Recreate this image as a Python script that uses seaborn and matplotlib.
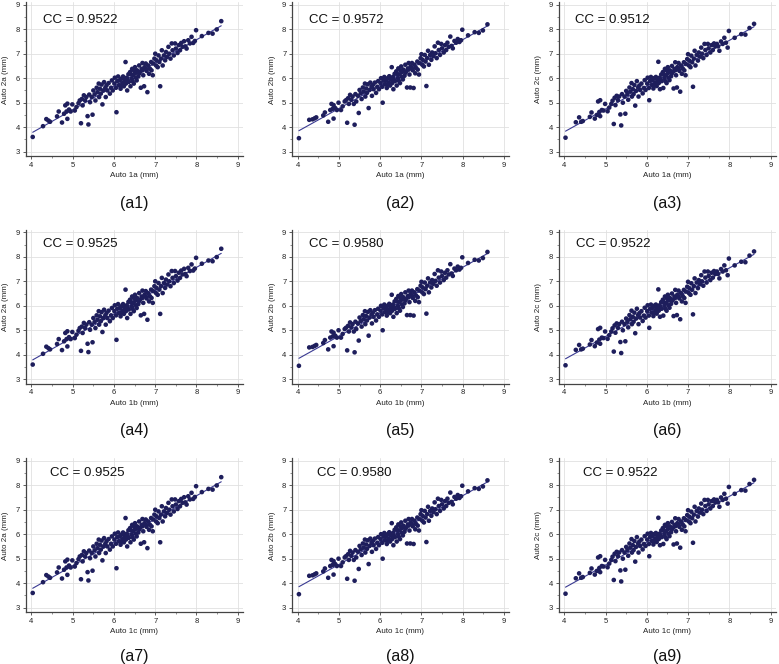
import matplotlib
matplotlib.use("Agg")
import matplotlib.pyplot as plt
from matplotlib.ticker import MultipleLocator
import seaborn as sns
import pandas as pd

# ---------------- data ----------------
auto1 = [
    4.03, 4.28, 4.36, 4.41, 4.45, 4.62, 4.66, 4.74, 4.79, 4.82,
    4.85, 4.87, 4.87, 4.91, 4.95, 4.99,
    5.05, 5.09, 5.14, 5.17, 5.20, 5.22, 5.24, 5.27, 5.30, 5.33,
    5.36, 5.38, 5.40, 5.42, 5.46, 5.48, 5.50, 5.53, 5.55, 5.58,
    5.60, 5.63, 5.64, 5.66, 5.68, 5.70, 5.72, 5.74, 5.76, 5.79,
    5.80, 5.82, 5.84, 5.87, 5.90, 5.93, 5.95, 5.97,
    6.01, 6.02, 6.05, 6.06, 6.08, 6.10, 6.12, 6.14, 6.16, 6.18,
    6.21, 6.22, 6.24, 6.27, 6.28, 6.29, 6.31, 6.32, 6.35, 6.36,
    6.39, 6.40, 6.43, 6.44, 6.47, 6.48, 6.51, 6.52, 6.55, 6.56,
    6.59, 6.61, 6.63, 6.65, 6.67, 6.69, 6.71, 6.73, 6.74, 6.77,
    6.79, 6.81, 6.83, 6.85, 6.87, 6.90, 6.91, 6.94, 6.95, 6.98,
    6.18, 6.24, 6.33, 6.41, 6.45, 6.49, 6.53, 6.61, 6.69, 6.77,
    7.00, 7.02, 7.03, 7.06, 7.08, 7.10, 7.12, 7.14, 7.16, 7.18,
    7.21, 7.24, 7.26, 7.29, 7.32, 7.34, 7.37, 7.40, 7.42, 7.45,
    7.48, 7.50, 7.54, 7.57, 7.60, 7.63, 7.66, 7.70, 7.73, 7.76,
    7.80, 7.84, 7.88, 7.92, 7.96, 7.99,
    8.13, 8.29, 8.39, 8.49, 8.60,
]

auto2a = [
    3.60, 4.04, 4.33, 4.27, 4.22, 4.44, 4.64, 4.19, 4.55, 4.89,
    4.64, 4.96, 4.34, 4.72, 4.64, 4.93,
    4.68, 4.82, 4.98, 5.09, 4.16, 5.15, 4.89, 5.30, 5.09, 5.23,
    4.45, 4.11, 5.33, 5.02, 5.23, 4.51, 5.50, 5.34, 5.09, 5.61,
    5.43, 5.78, 5.23, 5.57, 5.37, 5.74, 4.93, 5.50, 5.84, 5.61,
    5.23, 5.71, 5.50, 5.80, 5.37, 5.61, 5.91, 5.50,
    5.78, 6.02, 5.61, 4.61, 5.88, 6.07, 5.71, 5.91, 5.57, 5.98,
    5.80, 6.07, 5.67, 5.91, 6.66, 5.78, 6.02, 5.50, 6.16, 5.85,
    6.25, 5.67, 5.98, 6.38, 6.12, 5.78, 6.45, 6.21, 5.91, 6.32,
    6.07, 6.52, 6.25, 5.61, 6.38, 6.62, 6.12, 5.67, 6.45, 6.60,
    6.30, 5.43, 6.52, 6.18, 6.39, 6.66, 6.32, 6.12, 6.60, 6.80,
    5.71, 5.98, 5.94, 6.16, 5.88, 6.30, 6.02, 6.19, 6.32, 6.38,
    7.00, 6.52, 6.73, 6.45, 6.93, 6.66, 5.67, 6.80, 7.14, 6.52,
    6.93, 6.73, 7.07, 6.87, 7.28, 7.00, 6.80, 7.42, 7.14, 6.93,
    7.42, 7.21, 7.03, 7.35, 7.14, 7.44, 7.28, 7.51, 7.30, 7.21,
    7.55, 7.42, 7.69, 7.44, 7.52, 7.96,
    7.72, 7.85, 7.82, 7.99, 8.33,
]

auto2b = [
    3.55, 4.30, 4.32, 4.36, 4.40, 4.48, 4.60, 4.22, 4.70, 4.95,
    4.75, 4.90, 4.35, 4.78, 4.70, 5.00,
    4.70, 4.85, 5.05, 5.10, 4.18, 5.18, 4.95, 5.32, 5.12, 5.25,
    4.95, 4.10, 5.35, 5.05, 5.28, 4.58, 5.52, 5.38, 5.15, 5.62,
    5.45, 5.78, 5.25, 5.58, 5.40, 5.75, 4.78, 5.52, 5.82, 5.65,
    5.28, 5.72, 5.55, 5.82, 5.40, 5.65, 5.88, 5.55,
    5.80, 6.00, 5.65, 5.00, 5.90, 6.05, 5.75, 5.92, 5.60, 6.00,
    5.82, 6.08, 5.70, 5.95, 6.45, 5.80, 6.05, 5.55, 6.18, 5.88,
    6.28, 5.70, 6.00, 6.40, 6.15, 5.80, 6.48, 6.25, 5.95, 6.35,
    6.10, 6.55, 6.28, 5.62, 6.40, 6.62, 6.15, 5.62, 6.48, 6.62,
    6.32, 5.60, 6.55, 6.20, 6.42, 6.68, 6.35, 6.15, 6.62, 6.82,
    5.75, 6.00, 5.95, 6.18, 5.90, 6.32, 6.05, 6.22, 6.35, 6.40,
    6.98, 6.55, 6.75, 6.48, 6.95, 6.68, 5.68, 6.82, 7.12, 6.55,
    6.95, 6.75, 7.05, 6.90, 7.30, 7.02, 6.82, 7.45, 7.15, 6.95,
    7.40, 7.22, 7.05, 7.35, 7.15, 7.45, 7.28, 7.70, 7.32, 7.22,
    7.52, 7.45, 7.60, 7.48, 7.55, 7.98,
    7.75, 7.88, 7.85, 7.95, 8.20,
]

auto2c = [
    3.57, 4.20, 4.40, 4.22, 4.25, 4.42, 4.60, 4.35, 4.50, 5.05,
    4.62, 5.10, 4.45, 4.70, 4.68, 4.95,
    4.65, 4.80, 4.95, 5.08, 4.13, 5.20, 4.90, 5.28, 5.10, 5.25,
    4.52, 4.07, 5.35, 5.00, 5.25, 4.55, 5.48, 5.35, 5.12, 5.62,
    5.45, 5.80, 5.25, 5.55, 5.35, 5.72, 4.88, 5.48, 5.88, 5.62,
    5.25, 5.70, 5.52, 5.78, 5.38, 5.60, 5.92, 5.52,
    5.78, 6.02, 5.60, 5.10, 5.88, 6.05, 5.72, 5.92, 5.58, 6.00,
    5.82, 6.05, 5.68, 5.92, 6.67, 5.80, 6.02, 5.55, 6.15, 5.88,
    6.25, 5.60, 6.00, 6.38, 6.12, 5.80, 6.45, 6.22, 5.92, 6.32,
    6.08, 6.50, 6.25, 5.58, 6.38, 6.65, 6.12, 5.62, 6.45, 6.62,
    6.30, 5.45, 6.52, 6.18, 6.40, 6.65, 6.32, 6.12, 6.58, 6.78,
    5.72, 5.98, 5.95, 6.15, 5.88, 6.30, 6.02, 6.20, 6.32, 6.38,
    6.98, 6.52, 6.72, 6.45, 6.92, 6.65, 5.65, 6.80, 7.12, 6.52,
    6.95, 6.72, 7.05, 6.88, 7.25, 7.00, 6.82, 7.40, 7.15, 6.95,
    7.40, 7.22, 7.05, 7.35, 7.15, 7.42, 7.30, 7.40, 7.30, 7.12,
    7.50, 7.40, 7.65, 7.45, 7.25, 7.93,
    7.65, 7.80, 7.78, 8.05, 8.22,
]

x_names = ["Auto 1a (mm)", "Auto 1b (mm)", "Auto 1c (mm)"]
y_names = ["Auto 2a (mm)", "Auto 2b (mm)", "Auto 2c (mm)"]
cc_texts = [
    ["CC = 0.9522", "CC = 0.9572", "CC = 0.9512"],
    ["CC = 0.9525", "CC = 0.9580", "CC = 0.9522"],
    ["CC = 0.9525", "CC = 0.9580", "CC = 0.9522"],
]
panel_labels = [["(a1)", "(a2)", "(a3)"],
                ["(a4)", "(a5)", "(a6)"],
                ["(a7)", "(a8)", "(a9)"]]
x_ticks = [4, 5, 6, 7, 8, 9]
y_ticks = [3, 4, 5, 6, 7, 8, 9]

y_series = [auto2a, auto2b, auto2c]

# ---------------- styling ----------------
sns.set_style("white")
plt.rcParams["font.family"] = ["Liberation Sans", "DejaVu Sans"]

W, H = 779, 664
fig = plt.figure(figsize=(W / 100, H / 100), dpi=100)

col_left = [25.7, 291.9, 558.5]
row_top = [2.3, 229.9, 458.3]
ax_w, ax_h = 217, 154
cc_pos = [(4.27, 8.37), (4.28, 8.51), (4.46, 8.52)]
label_gap = [47.5, 47.0, 44.5]

point_color = "#1e1e5c"
line_color = "#3a3a92"

for r in range(3):
    for c in range(3):
        left = col_left[c]
        top = row_top[r]
        ax = fig.add_axes([left / W, 1 - (top + ax_h) / H, ax_w / W, ax_h / H])
        df = pd.DataFrame({"x": auto1, "y": y_series[c]})
        sns.regplot(data=df, x="x", y="y", ax=ax, scatter=False, ci=None,
                    truncate=True, line_kws=dict(color=line_color, lw=0.8))
        sns.scatterplot(data=df, x="x", y="y", ax=ax, color=point_color,
                        s=11, edgecolor="none", linewidth=0, zorder=3)
        ax.set_xlim(3.86, 9.12)
        ax.set_ylim(2.81, 9.10)
        ax.set_xticks(x_ticks)
        ax.set_yticks(y_ticks)
        ax.xaxis.set_minor_locator(MultipleLocator(0.5))
        ax.yaxis.set_minor_locator(MultipleLocator(0.5))
        ax.grid(True, which="major", color="#e0e0e0", lw=0.6)
        ax.set_axisbelow(True)
        for s in ["top", "right"]:
            ax.spines[s].set_visible(False)
        for s in ["left", "bottom"]:
            ax.spines[s].set_color("#444444")
            ax.spines[s].set_linewidth(0.9)
        ax.tick_params(which="major", direction="out", length=2.5, width=0.6,
                       colors="#444444", labelsize=5.5, labelcolor="#222222", pad=1.5,
                       bottom=True, left=True)
        ax.tick_params(which="minor", direction="out", length=1.3, width=0.5,
                       colors="#666666", bottom=True, left=True)
        ax.set_xlabel(x_names[r], fontsize=5.8, color="#222222")
        ax.set_ylabel(y_names[c], fontsize=5.8, color="#222222")
        ax.xaxis.set_label_coords(0.5, -16 / ax_h)
        ax.yaxis.set_label_coords(-16.2 / ax_w, 0.5)
        ax.text(cc_pos[r][0], cc_pos[r][1], cc_texts[r][c], fontsize=9.5,
                ha="left", va="center", color="#111111")
        fig.text((left + ax_w / 2) / W, 1 - (top + ax_h + label_gap[r]) / H,
                 panel_labels[r][c], fontsize=11.5, ha="center", va="center",
                 color="#111111")

fig.savefig("out.png", dpi=100, facecolor="white")
